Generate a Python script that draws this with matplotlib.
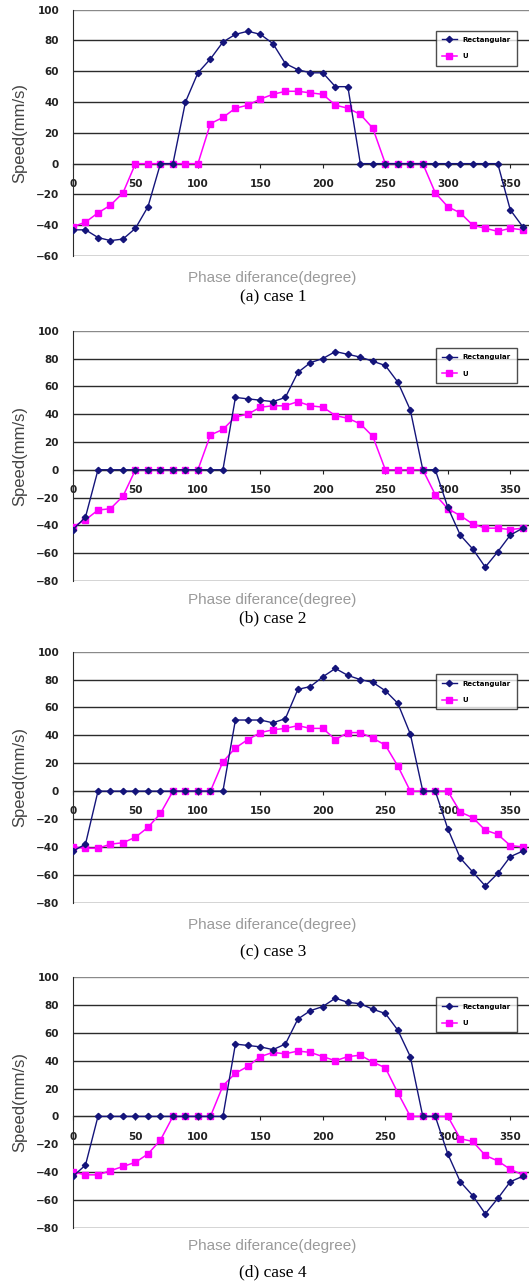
import matplotlib.pyplot as plt
import numpy as np

phase = list(range(0, 361, 10))

rect_1 = [-43, -43, -48, -50, -49, -42, -28, 0, 0, 40, 59, 68, 79, 84, 86, 84, 78, 65, 61,
          59, 59, 50, 50, 0, 0, 0, 0, 0, 0, 0, 0, 0, 0, 0, 0, -30, -41]
u_1 = [-41, -38, -32, -27, -19, 0, 0, 0, 0, 0, 0, 26, 30, 36, 38, 42, 45, 47, 47,
       46, 45, 38, 36, 32, 23, 0, 0, 0, 0, -19, -28, -32, -40, -42, -44, -42, -43]

rect_2 = [-43, -34, 0, 0, 0, 0, 0, 0, 0, 0, 0, 0, 0, 52, 51, 50, 49, 52, 70,
          77, 80, 85, 83, 81, 78, 75, 63, 43, 0, 0, -27, -47, -57, -70, -59, -47, -42]
u_2 = [-41, -36, -29, -28, -19, 0, 0, 0, 0, 0, 0, 25, 29, 38, 40, 45, 46, 46, 49,
       46, 45, 39, 37, 33, 24, 0, 0, 0, 0, -18, -28, -33, -39, -42, -42, -43, -42]

rect_3 = [-43, -38, 0, 0, 0, 0, 0, 0, 0, 0, 0, 0, 0, 51, 51, 51, 49, 52, 73,
          75, 82, 88, 83, 80, 78, 72, 63, 41, 0, 0, -27, -48, -58, -68, -59, -47, -43]
u_3 = [-40, -41, -41, -38, -37, -33, -26, -16, 0, 0, 0, 0, 21, 31, 37, 42, 44, 45, 47,
       45, 45, 37, 42, 42, 38, 33, 18, 0, 0, 0, 0, -15, -19, -28, -31, -39, -40]

rect_4 = [-43, -35, 0, 0, 0, 0, 0, 0, 0, 0, 0, 0, 0, 52, 51, 50, 48, 52, 70,
          76, 79, 85, 82, 81, 77, 74, 62, 43, 0, 0, -27, -47, -57, -70, -59, -47, -43]
u_4 = [-40, -42, -42, -39, -36, -33, -27, -17, 0, 0, 0, 0, 22, 31, 36, 43, 46, 45, 47,
       46, 43, 40, 43, 44, 39, 35, 17, 0, 0, 0, 0, -16, -18, -28, -32, -38, -42]

cases = [(rect_1, u_1), (rect_2, u_2), (rect_3, u_3), (rect_4, u_4)]
captions = ['(a) case 1', '(b) case 2', '(c) case 3', '(d) case 4']
y_mins = [-60, -80, -80, -80]

W, H = 529, 1283
fig = plt.figure(figsize=(W / 100, H / 100), dpi=100)

# panel geometry in pixels: (top of axes, bottom of axes, xlabel y, caption y, legend top frac)
panels = [(9.7, 256.0, 278, 297, 0.915),
          (330.7, 581.0, 600, 618, 0.93),
          (651.7, 902.7, 925, 952, 0.91),
          (977.3, 1227.7, 1246, 1272, 0.92)]

left_px = 73
for (rect, u), cap, ymin, geo in zip(cases, captions, y_mins, panels):
    top, bot, xl_y, cap_y, leg_top = geo
    ax = fig.add_axes([left_px / W, 1 - bot / H, (W - left_px) / W, (bot - top) / H])
    lu, = ax.plot(phase, u, color='#FF00FF', marker='s', markersize=4.5, lw=1.1, label='U', zorder=3)
    lr, = ax.plot(phase, rect, color='#14147A', marker='D', markersize=3.2, lw=1.0,
                  label='Rectangular', zorder=4)
    ax.set_xlim(0, 365)
    ax.set_ylim(ymin, 100)
    ax.set_yticks(np.arange(ymin, 101, 20))
    ax.set_xticks([0, 50, 100, 150, 200, 250, 300, 350])
    for y in np.arange(ymin, 101, 20):
        ax.axhline(y, color='#8a8a8a' if y == 100 else '#2b2b2b', lw=1.0, zorder=1)
    for s in ['top', 'right']:
        ax.spines[s].set_visible(False)
    ax.spines['left'].set_color('#2b2b2b')
    ax.spines['bottom'].set_position(('data', 0))
    ax.spines['bottom'].set_color('#2b2b2b')
    ax.tick_params(axis='x', direction='out', length=3, pad=8, labelsize=7.5, colors='#222222')
    ax.tick_params(axis='y', length=0, pad=10, labelsize=7.5, colors='#222222')
    for lab in ax.get_xticklabels() + ax.get_yticklabels():
        lab.set_fontweight('bold')
    leg = ax.legend(handles=[lr, lu], loc='upper left',
                    bbox_to_anchor=(0.795, leg_top), frameon=True,
                    fancybox=False, borderpad=0.9, handlelength=2.2, borderaxespad=0,
                    labelspacing=1.5, prop={'weight': 'bold', 'size': 5})
    leg.get_frame().set_edgecolor('#222222')
    leg.get_frame().set_linewidth(1.0)
    leg.set_zorder(5)

    mid = 1 - (top + bot) / 2 / H
    fig.text(20 / W, mid, 'Speed(mm/s)', rotation=90, ha='center', va='center',
             fontsize=12, color='#444444', family='Liberation Sans')
    fig.text(272 / W, 1 - xl_y / H, 'Phase diferance(degree)', ha='center', va='center',
             fontsize=11, color='#9a9a9a', family='Liberation Sans')
    fig.text(273 / W, 1 - cap_y / H, cap, ha='center', va='center',
             fontsize=12.5, color='black', family='Liberation Serif')

plt.savefig('out.png', dpi=100)
